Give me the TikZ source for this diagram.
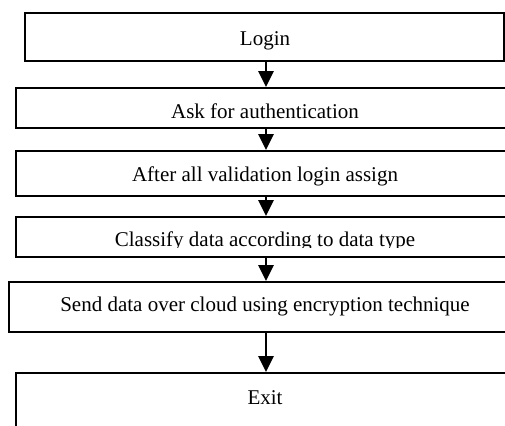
\documentclass[tikz,border=0pt]{standalone}
\usepackage{fontspec}
\setmainfont{Liberation Serif}
\usetikzlibrary{arrows.meta}
\tikzset{
  box/.style={draw, line width=1.8pt, rectangle, inner sep=0pt},
  lbl/.style={inner sep=0pt, font=\fontsize{21}{24}\selectfont, anchor=base},
  flow/.style={line width=2.6pt, -{Triangle[width=15pt,length=16pt]}}
}
\begin{document}
\begin{tikzpicture}[x=1pt,y=-1pt]
  \useasboundingbox (0,0) rectangle (505,425);
  \clip (0,0) rectangle (505,425);
  % process boxes (x-range and y-range given by their corners)
  \node[box, minimum width=479pt, minimum height=48pt] (b1) at (264.5,37) {};
  \node[box, minimum width=494pt, minimum height=40pt] (b2) at (263,108) {};
  \node[box, minimum width=494pt, minimum height=45pt] (b3) at (263,173.5) {};
  \node[box, minimum width=494pt, minimum height=40pt] (b4) at (263,237) {};
  \node[box, minimum width=501pt, minimum height=50pt] (b5) at (259.5,307) {};
  \node[box, minimum width=494pt, minimum height=60pt] (b6) at (263,403) {};
  % labels
  \node[lbl] (t1) at (265,46) {Login};
  \node[lbl] (t2) at (265,118) {Ask for authentication};
  \node[lbl] (t3) at (265,181) {After all validation login assign};
  \begin{scope}
    \clip (0,200) rectangle (505,247);
    \node[lbl] (t4) at (265,246) {Classify data according to data type};
  \end{scope}
  \node[lbl] (t5) at (265,311) {Send data over cloud using encryption technique};
  \node[lbl] (t6) at (265,404) {Exit};
  % flow column
  \coordinate (ax) at (266,0);
  \draw[flow] (b1.south -| ax) -- (b2.north -| ax);
  \draw[flow] (b2.south -| ax) -- (b3.north -| ax);
  \draw[flow] (b3.south -| ax) -- (b4.north -| ax);
  \draw[flow] (b4.south -| ax) -- (b5.north -| ax);
  \draw[flow] (b5.south -| ax) -- (b6.north -| ax);
\end{tikzpicture}
\end{document}
